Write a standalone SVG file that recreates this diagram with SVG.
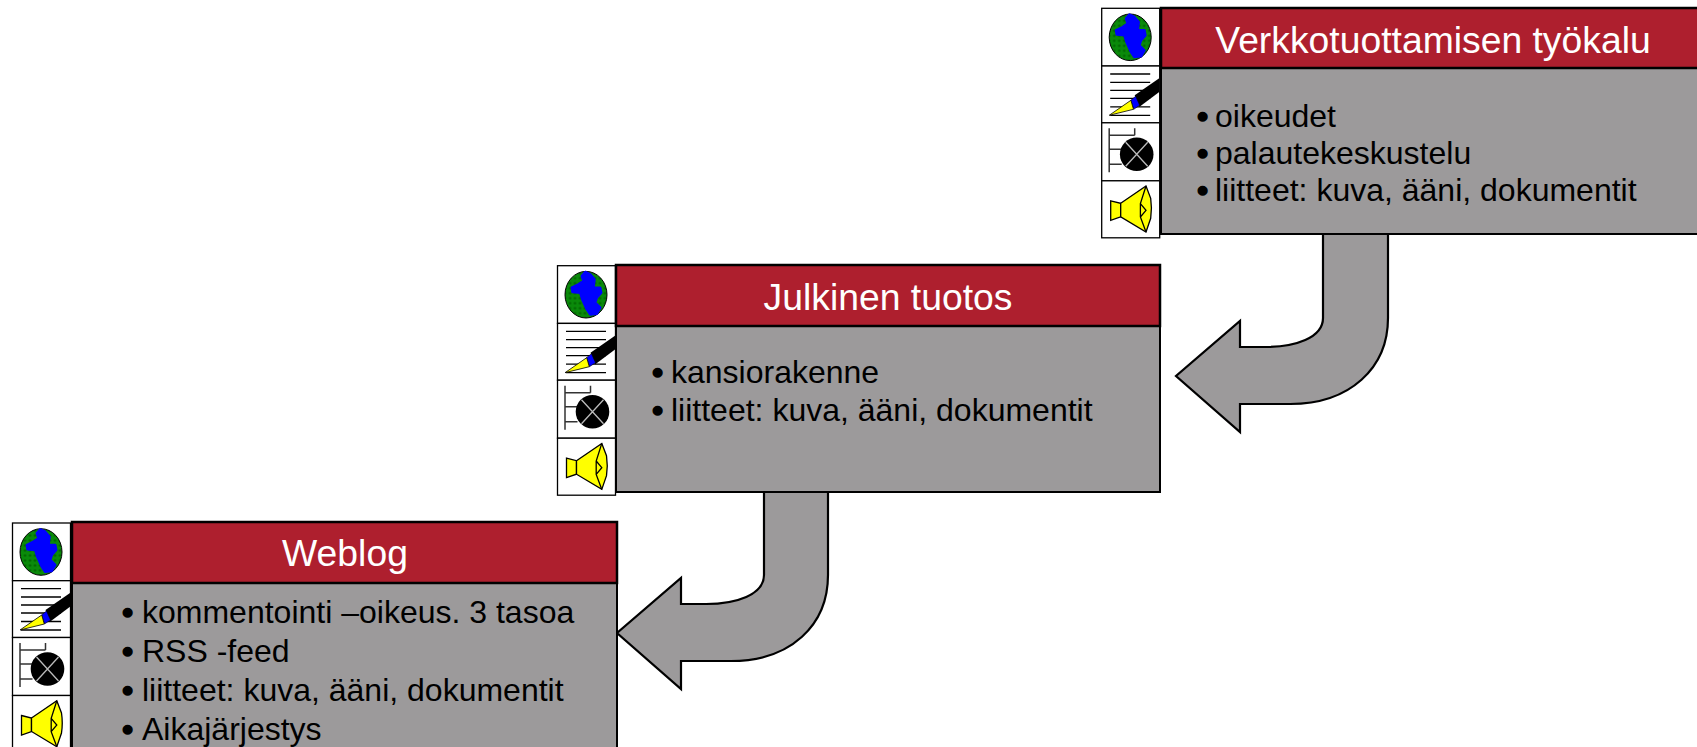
<svg xmlns="http://www.w3.org/2000/svg" width="1697" height="747" viewBox="0 0 1697 747">
<style>
text{font-family:"Liberation Sans",Arial,sans-serif}
.head{fill:#ae1f2e;stroke:#000;stroke-width:2.5}
.body{fill:#9c9a9b;stroke:#000;stroke-width:2}
.t{fill:#fff;font-size:37.3px;text-anchor:middle}
.b{fill:#000;font-size:32px}
.d{fill:#000;font-size:32px;stroke:#000;stroke-width:1.5}
.cell{fill:#fff;stroke:#000;stroke-width:1.3}
.ln{stroke:#000;stroke-width:1.3;fill:none}
.ye{fill:#ff0;stroke:#000;stroke-width:1.3}
.arrow{fill:#9c9a9b;stroke:#000;stroke-width:2.2}
</style>
<defs>
<pattern id="dots" width="5" height="5" patternUnits="userSpaceOnUse"><rect width="5" height="5" fill="#0a8a0a"/><circle cx="2.5" cy="2.5" r="1.2" fill="#006400"/></pattern>
<symbol id="icons" width="62" height="232" viewBox="0 0 62 232" overflow="visible">
<rect class="cell" x="0" y="0" width="58" height="57.7"/>
<rect class="cell" x="0" y="57.7" width="58" height="56.800"/>
<rect class="cell" x="0" y="114.500" width="58" height="58"/>
<rect class="cell" x="0" y="172.500" width="58" height="57"/>
<ellipse cx="28.500" cy="29" rx="21" ry="23.300" fill="url(#dots)" stroke="#000" stroke-width="1"/>
<path d="M24.300 10.300L27.700 6.300L32.700 8.700L37 13.700L36 22L42.700 22L43.700 27L39.300 32L37.700 37L42.700 42L39.300 48L32.700 48.700L29.300 43.700L25 34.300L22.700 27L15 26.300L14.300 22L21 18.700L26 15.300Z" fill="#00f" stroke="#00f" stroke-width="2.500" stroke-linejoin="round"/>
<path class="ln" d="M8.500 65.700H48.500M8.500 74H48.500M8.500 82H48.500M8.500 90H48.500M8.500 98.500H48.500M8.500 107H48.500"/>
<path d="M33 87L57.500 70V83.700L37.500 98.700Z" fill="#000"/>
<path d="M29 92L34 88L38 97L32 101Z" fill="#00f" stroke="#000" stroke-width=".6"/>
<path d="M7.500 107L29.200 92L31.800 101Z" fill="#ff0" stroke="#000" stroke-width=".8"/>
<path class="ln" style="stroke:#333;stroke-width:1.5" d="M7.500 120V164M7.500 127H33M33 120V127M7.500 141H20M7.500 156H20"/>
<circle cx="35" cy="146" r="16.800" fill="#000"/>
<path d="M24 134L46 158M46 134L24 158" stroke="#bbb" stroke-width="1.300"/>
<path class="ye" d="M9 192.500L19 195V208.500L9 212Z"/>
<path class="ye" d="M19 195L44.300 177.700L49 190Q50.500 200 49 210L44.300 223.700L19 208.500Z"/>
<path class="ln" d="M44.300 177.700L38.700 195.300V208.700L44.300 223.700M38.700 195.300L44.300 202L38.700 208.700"/>
</symbol>
</defs>
<g id="connectors">
<path class="arrow" d="M1323 234V318C1323 338 1295 347 1265 347H1240V321L1176 376L1240 432V404H1290C1350 404 1388 368 1388 318V234Z"/>
<path class="arrow" d="M764 492V575C764 595 736 604 706 604H681V578L617 633L681 689V661H731C791 661 828 625 828 575V492Z"/>
</g>
<g id="node-verkko">
<use href="#icons" x="1101.700" y="8.300"/>
<rect class="body" x="1161" y="68" width="540" height="166"/>
<rect class="head" x="1161" y="8" width="540" height="60"/>
<text class="t" x="1433" y="53">Verkkotuottamisen työkalu</text>
<text class="d" x="1197" y="127">•</text><text class="b" x="1215" y="127">oikeudet</text>
<text class="d" x="1197" y="164">•</text><text class="b" x="1215" y="164">palautekeskustelu</text>
<text class="d" x="1197" y="201">•</text><text class="b" x="1215" y="201">liitteet: kuva, ääni, dokumentit</text>
</g>
<g id="node-julkinen">
<use href="#icons" x="557.500" y="265.700"/>
<rect class="body" x="616" y="326" width="544" height="166"/>
<rect class="head" x="616" y="265" width="544" height="61"/>
<text class="t" x="888" y="310">Julkinen tuotos</text>
<text class="d" x="652" y="383">•</text><text class="b" x="671" y="383">kansiorakenne</text>
<text class="d" x="652" y="421">•</text><text class="b" x="671" y="421">liitteet: kuva, ääni, dokumentit</text>
</g>
<g id="node-weblog">
<use href="#icons" x="12.500" y="523"/>
<rect class="body" x="72" y="583" width="545" height="170"/>
<rect class="head" x="72" y="522" width="545" height="61"/>
<text class="t" x="345" y="566">Weblog</text>
<text class="d" x="122" y="623">•</text><text class="b" x="142" y="623">kommentointi –oikeus. 3 tasoa</text>
<text class="d" x="122" y="662">•</text><text class="b" x="142" y="662">RSS -feed</text>
<text class="d" x="122" y="701">•</text><text class="b" x="142" y="701">liitteet: kuva, ääni, dokumentit</text>
<text class="d" x="122" y="740">•</text><text class="b" x="142" y="740">Aikajärjestys</text>
</g>
</svg>
